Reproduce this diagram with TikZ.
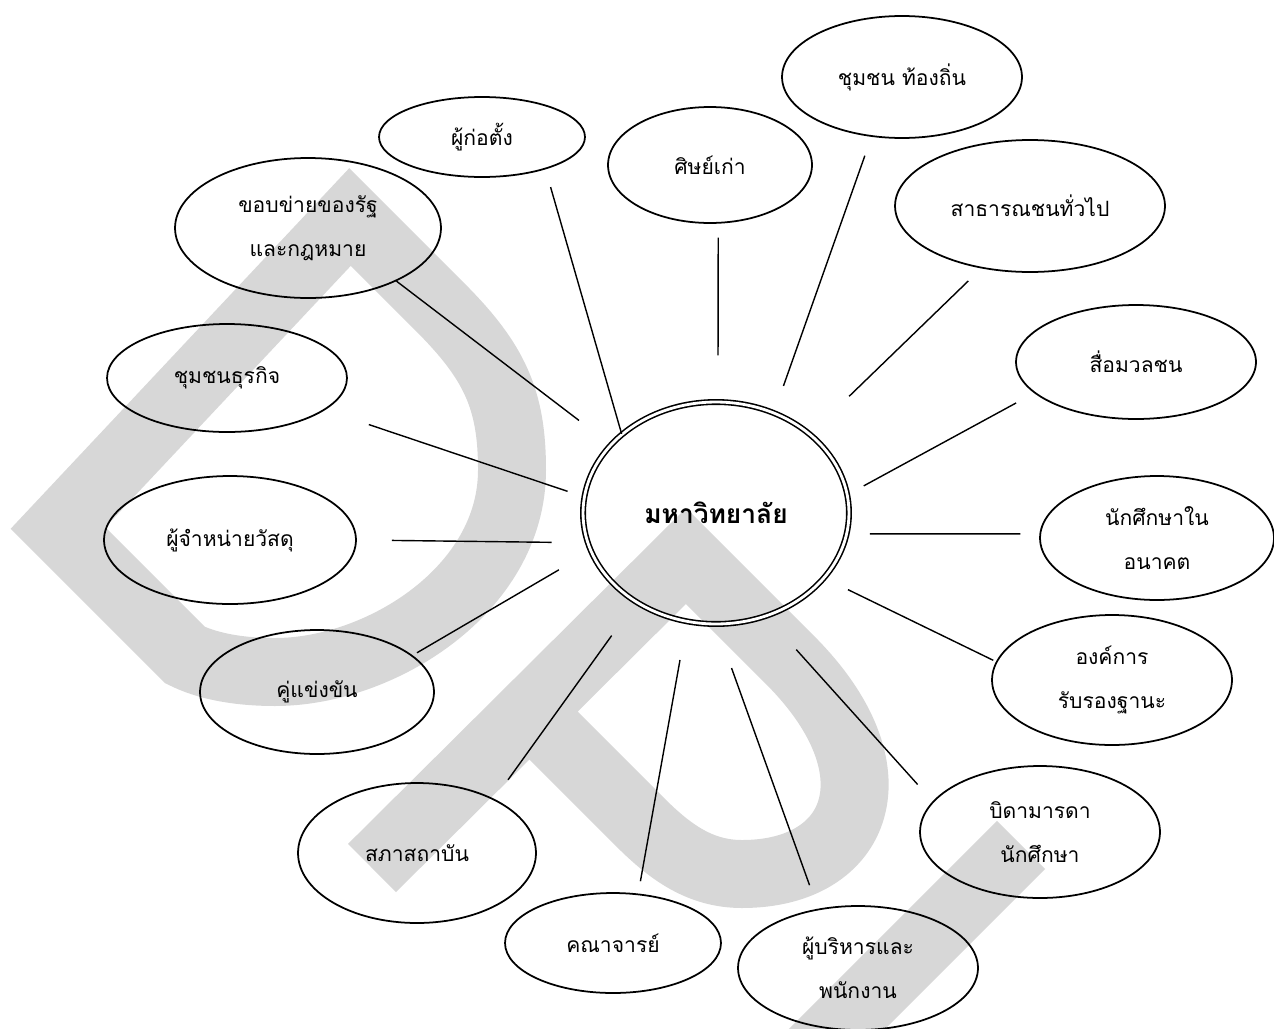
\documentclass[tikz,border=0pt]{standalone}
\usepackage{fontspec}
\usepackage{tikz}
\usetikzlibrary{shapes.geometric}
\newfontfamily\thaifont[Script=Thai]{Loma}
\definecolor{markgrey}{RGB}{215,215,215}

\begin{document}
\begin{tikzpicture}[x=0.02cm, y=-0.02cm,
    party/.style={ellipse, draw, line width=1pt, inner sep=0pt, align=center,
        font=\thaifont\fontsize{12}{25}\selectfont},
    spoke/.style={line width=0.8pt},
    watermark/.style={draw=markgrey, line width=1.36cm}]
\useasboundingbox (0,0) rectangle (1274,1028);

            % Watermark
            \draw[watermark] (58,528) -- (350,217) -- (440,307) .. controls (495,362) and (512,400) .. (512,470)
                .. controls (512,590) and (380,672) .. (275,672) .. controls (235,672) and (205,665) .. (185,655) -- cycle;
            \draw[watermark] (372,868) -- (686,556) -- (790,660) .. controls (900,770) and (860,874) .. (742,874)
                .. controls (700,874) and (670,852) .. (640,822) -- (530,712);
            \draw[watermark] (1021,845) -- (790,1076);

            % Nodes
            \node[ellipse, draw, double, line width=0.9pt, double distance=1.6pt, inner sep=0pt,
                minimum width=5.32cm, minimum height=4.44cm,
                font=\thaifont\bfseries\fontsize{15}{18}\selectfont] (uni) at (716,513) {มหาวิทยาลัย};
            \node[party, minimum width=4.12cm, minimum height=1.6cm] (founder) at (482,137) {ผู้ก่อตั้ง};
            \node[party, minimum width=4.08cm, minimum height=2.32cm] (alumni) at (710,165) {ศิษย์เก่า};
            \node[party, minimum width=4.8cm, minimum height=2.44cm] (locals) at (902,77) {ชุมชน ท้องถิ่น};
            \node[party, minimum width=5.4cm, minimum height=2.64cm] (public) at (1030,206) {สาธารณชนทั่วไป};
            \node[party, minimum width=4.8cm, minimum height=2.28cm] (media) at (1136,362) {สื่อมวลชน};
            \node[party, minimum width=4.68cm, minimum height=2.48cm] (prospect) at (1157,538) {นักศึกษาใน\\อนาคต};
            \node[party, minimum width=4.8cm, minimum height=2.6cm] (accredit) at (1112,680) {องค์การ\\รับรองฐานะ};
            \node[party, minimum width=4.8cm, minimum height=2.64cm] (parents) at (1040,832) {บิดามารดา\\นักศึกษา};
            \node[party, minimum width=4.8cm, minimum height=2.48cm] (staff) at (858,968) {ผู้บริหารและ\\พนักงาน};
            \node[party, minimum width=4.32cm, minimum height=2cm] (faculty) at (613,943) {คณาจารย์};
            \node[party, minimum width=4.76cm, minimum height=2.8cm] (council) at (417,853) {สภาสถาบัน};
            \node[party, minimum width=4.68cm, minimum height=2.48cm] (rivals) at (317,692) {คู่แข่งขัน};
            \node[party, minimum width=5.04cm, minimum height=2.56cm] (suppliers) at (230,540) {ผู้จำหน่ายวัสดุ};
            \node[party, minimum width=4.8cm, minimum height=2.16cm] (business) at (227,378) {ชุมชนธุรกิจ};
            \node[party, minimum width=5.32cm, minimum height=2.8cm] (stategov) at (308,228) {ขอบข่ายของรัฐ\\และกฎหมาย};

            % Edges
            \draw[spoke, shorten >=0.37cm] (uni.140.8) -- (founder.-27.9);
            \draw[spoke, shorten <=0.92cm, shorten >=0.28cm] (uni.89) -- (alumni.-82);
            \draw[spoke, shorten <=0.56cm, shorten >=0.40cm] (uni.60.9) -- (locals.-117.9);
            \draw[spoke, shorten <=1.08cm, shorten >=0.36cm] (uni.40.9) -- (public.-128.5);
            \draw[spoke, shorten <=0.36cm, shorten >=0.41cm] (uni.8.3) -- (media.-163.6);
            \draw[spoke, shorten <=0.45cm, shorten >=0.38cm] (uni.-9.5) -- (prospect.178.5);
            \draw[spoke, shorten <=0.52cm, shorten >=0.06cm] (uni.-31.2) -- (accredit.171.9);
            \draw[spoke, shorten <=0.89cm, shorten >=0.45cm] (uni.-64.2) -- (parents.164.2);
            \draw[spoke, shorten <=0.92cm, shorten >=0.50cm] (uni.-90.9) -- (staff.124);
            \draw[spoke, shorten <=0.77cm, shorten >=0.25cm] (uni.-105) -- (faculty.63);
            \draw[spoke, shorten <=0.82cm, shorten >=0.47cm] (uni.-132.9) -- (council.35.2);
            \draw[spoke, shorten <=0.73cm, shorten >=0.10cm] (uni.-163.9) -- (rivals.21.7);
            \draw[spoke, shorten <=0.71cm, shorten >=0.70cm] (uni.-167.8) -- (suppliers.0);
            \draw[spoke, shorten <=0.34cm, shorten >=0.92cm] (uni.173.3) -- (business.-18.6);
            \draw[spoke, shorten <=0.79cm] (uni.147.5) -- (stategov.-31.2);
        \end{tikzpicture}
\end{document}
